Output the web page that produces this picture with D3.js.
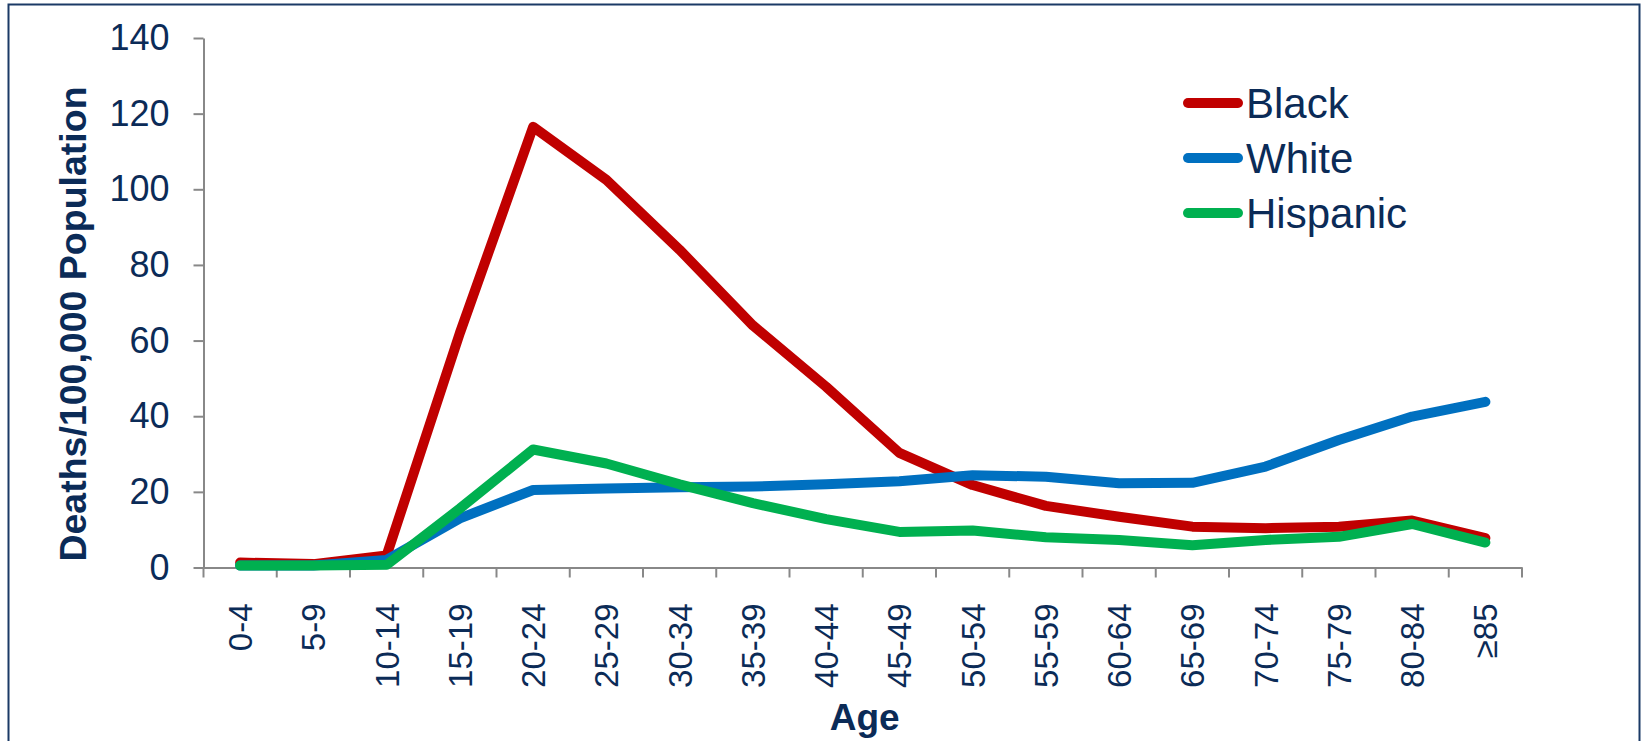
<!DOCTYPE html>
<html lang="en">
<head>
  <meta charset="UTF-8" />
  <title>Deaths/100,000 Population by Age</title>
  <script src="https://d3js.org/d3.v7.min.js"></script>
  <style>
    body {
      margin: 0;
      padding: 0;
      background: white;
      font-family: "Liberation Sans", Arial, sans-serif;
    }
    #chart {
      display: block;
    }
  </style>
</head>
<body>
  <svg id="chart" width="1642" height="741"></svg>

  <script>
    // Age groups along the x axis
    const ages = ["0-4", "5-9", "10-14", "15-19", "20-24", "25-29", "30-34", "35-39", "40-44",
                  "45-49", "50-54", "55-59", "60-64", "65-69", "70-74", "75-79", "80-84", "\u226585"];

    // Deaths per 100,000 population
    const black    = [1.3, 0.9, 3.2, 62, 116.5, 102.5, 84, 64, 47.8, 30.3, 21.8, 16.3, 13.4, 10.8, 10.4, 10.8, 12.4, 7.8];
    const white    = [0.5, 0.5, 2.0, 13, 20.5, 20.9, 21.2, 21.4, 22.0, 22.8, 24.4, 24.0, 22.3, 22.4, 26.7, 33.7, 39.9, 43.8];
    const hispanic = [0.5, 0.5, 0.7, 15.6, 31.2, 27.5, 22, 17.0, 12.8, 9.4, 9.8, 8.0, 7.3, 5.9, 7.3, 8.1, 11.5, 6.6];

    const seriesNames = ["Black", "White", "Hispanic"];
    const yTicks = [0, 20, 40, 60, 80, 100, 120, 140];

    const series = [
      { name: seriesNames[0], values: black,    color: "#C00000" },
      { name: seriesNames[1], values: white,    color: "#0070C0" },
      { name: seriesNames[2], values: hispanic, color: "#00B050" }
    ];

    const textColor = "#0B2B57";
    const axisColor = "#888888";

    const svg = d3.select("#chart");

    // outer frame
    svg.append("rect")
      .attr("x", 8.5).attr("y", 4.5)
      .attr("width", 1631).attr("height", 760)
      .attr("fill", "white")
      .attr("stroke", "#1B3A66")
      .attr("stroke-width", 2);

    const x = d3.scaleBand()
      .domain(ages)
      .range([203.5, 1522]);

    const y = d3.scaleLinear()
      .domain([0, 140])
      .range([567.5, 38]);

    // y axis
    const yAxis = svg.append("g")
      .attr("transform", "translate(203.5,0)")
      .call(d3.axisLeft(y).tickValues(yTicks).tickSize(10).tickSizeOuter(0).tickPadding(24));

    yAxis.select(".domain").attr("stroke", axisColor).attr("stroke-width", 2);
    yAxis.selectAll(".tick line").attr("stroke", axisColor).attr("stroke-width", 2);
    yAxis.selectAll(".tick text")
      .attr("fill", textColor)
      .style("font-family", "'Liberation Sans', Arial, sans-serif")
      .style("font-size", "36px");

    // x axis: labels at band centres, ticks on band edges
    const xAxis = svg.append("g")
      .attr("transform", "translate(0,567.5)")
      .call(d3.axisBottom(x).tickSize(0).tickSizeOuter(0));

    xAxis.select(".domain").attr("stroke", axisColor).attr("stroke-width", 2);
    xAxis.selectAll(".tick text")
      .attr("fill", textColor)
      .style("font-family", "'Liberation Sans', Arial, sans-serif")
      .style("font-size", "33px")
      .attr("text-anchor", "end")
      .attr("dy", null)
      .attr("y", 0)
      .attr("transform", "translate(12,36) rotate(-90)");

    const edges = ages.map(a => x(a)).concat([x.range()[1]]);
    xAxis.selectAll(".edge")
      .data(edges)
      .enter()
      .append("line")
      .attr("class", "edge")
      .attr("x1", d => d).attr("x2", d => d)
      .attr("y1", 0).attr("y2", 10)
      .attr("stroke", axisColor)
      .attr("stroke-width", 2);

    // axis titles
    svg.append("text")
      .attr("transform", "translate(86,324) rotate(-90)")
      .attr("text-anchor", "middle")
      .attr("fill", textColor)
      .style("font-size", "37.5px")
      .style("font-weight", "bold")
      .text("Deaths/100,000 Population");

    svg.append("text")
      .attr("x", (x.range()[0] + x.range()[1]) / 2 + 2)
      .attr("y", 730)
      .attr("text-anchor", "middle")
      .attr("fill", textColor)
      .style("font-size", "37px")
      .style("font-weight", "bold")
      .text("Age");

    // lines
    const line = d3.line()
      .x((d, i) => x(ages[i]) + x.bandwidth() / 2)
      .y(d => y(d));

    svg.selectAll(".series")
      .data(series)
      .enter()
      .append("path")
      .attr("class", "series")
      .attr("d", d => line(d.values))
      .attr("fill", "none")
      .attr("stroke", d => d.color)
      .attr("stroke-width", 10)
      .attr("stroke-linejoin", "round")
      .attr("stroke-linecap", "round");

    // legend
    const legend = svg.append("g")
      .attr("transform", "translate(1188,103)");

    const items = legend.selectAll("g")
      .data(series)
      .enter()
      .append("g")
      .attr("transform", (d, i) => `translate(0,${i * 55})`);

    items.append("line")
      .attr("x1", 0).attr("x2", 50)
      .attr("stroke", d => d.color)
      .attr("stroke-width", 10)
      .attr("stroke-linecap", "round");

    items.append("text")
      .attr("x", 58)
      .attr("dy", "0.36em")
      .attr("fill", textColor)
      .style("font-size", "42px")
      .text(d => d.name);
  </script>
</body>
</html>
